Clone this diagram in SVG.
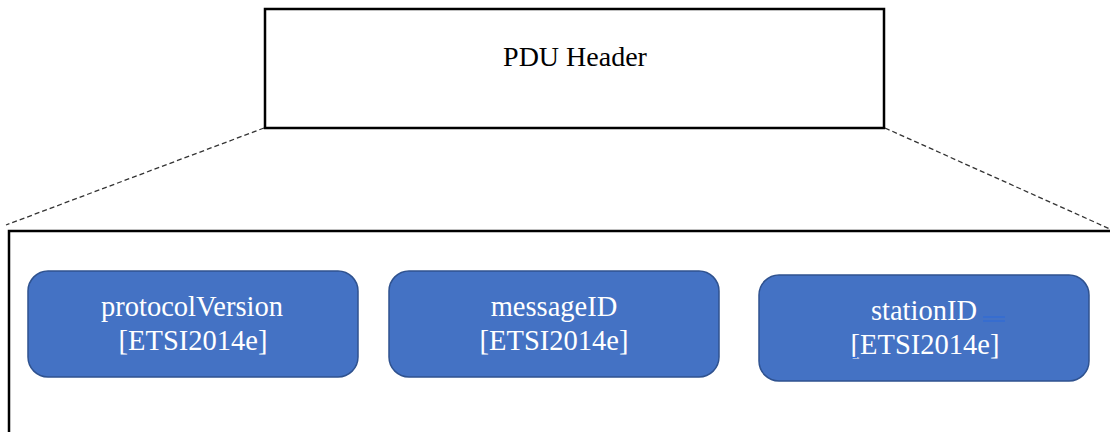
<svg xmlns="http://www.w3.org/2000/svg" width="1110" height="432" viewBox="0 0 1110 432">
<style>
.frame{fill:#fff;stroke:#000;stroke-width:2.5}
.dash{stroke:#333;stroke-width:1.3;stroke-dasharray:5 3;fill:none}
.field{fill:#4472C4;stroke:#2F528F;stroke-width:1.5}
.ft{font-size:28.5px;fill:#fff;text-anchor:middle}
.ht{font-size:28px;fill:#000;text-anchor:middle}
.mark{stroke:#2F6BD8;stroke-width:1.2}
</style>
<g id="connectors">
<line class="dash" x1="264" y1="128" x2="6" y2="225"/>
<line class="dash" x1="885" y1="128" x2="1110" y2="229"/>
</g>
<g id="header">
<rect class="frame" x="265" y="9" width="619" height="119"/>
<text class="ht" x="575" y="66" font-family="'Liberation Serif', 'Times New Roman', 'DejaVu Serif', serif">PDU Header</text>
</g>
<g id="body">
<rect class="frame" x="9" y="231" width="1110" height="210"/>
</g>
<g id="protocolVersion" font-family="'Liberation Serif', 'Times New Roman', 'DejaVu Serif', serif">
<rect class="field" x="28" y="271" width="330" height="106" rx="20"/>
<text class="ft" x="192" y="316">protocolVersion</text>
<text class="ft" x="193" y="350">[ETSI2014e]</text>
</g>
<g id="messageID" font-family="'Liberation Serif', 'Times New Roman', 'DejaVu Serif', serif">
<rect class="field" x="389" y="271" width="330" height="106" rx="20"/>
<text class="ft" x="554" y="316">messageID</text>
<text class="ft" x="554" y="350">[ETSI2014e]</text>
</g>
<g id="stationID" font-family="'Liberation Serif', 'Times New Roman', 'DejaVu Serif', serif">
<rect class="field" x="759" y="275" width="330" height="106" rx="20"/>
<text class="ft" x="924" y="320">stationID</text>
<text class="ft" x="925" y="354">[ETSI2014e]</text>
<line class="mark" x1="983" y1="317" x2="1005" y2="317"/>
<line class="mark" x1="983" y1="321" x2="1005" y2="321"/>
<line class="mark" x1="851" y1="357.5" x2="857" y2="357.5"/>
</g>
</svg>
